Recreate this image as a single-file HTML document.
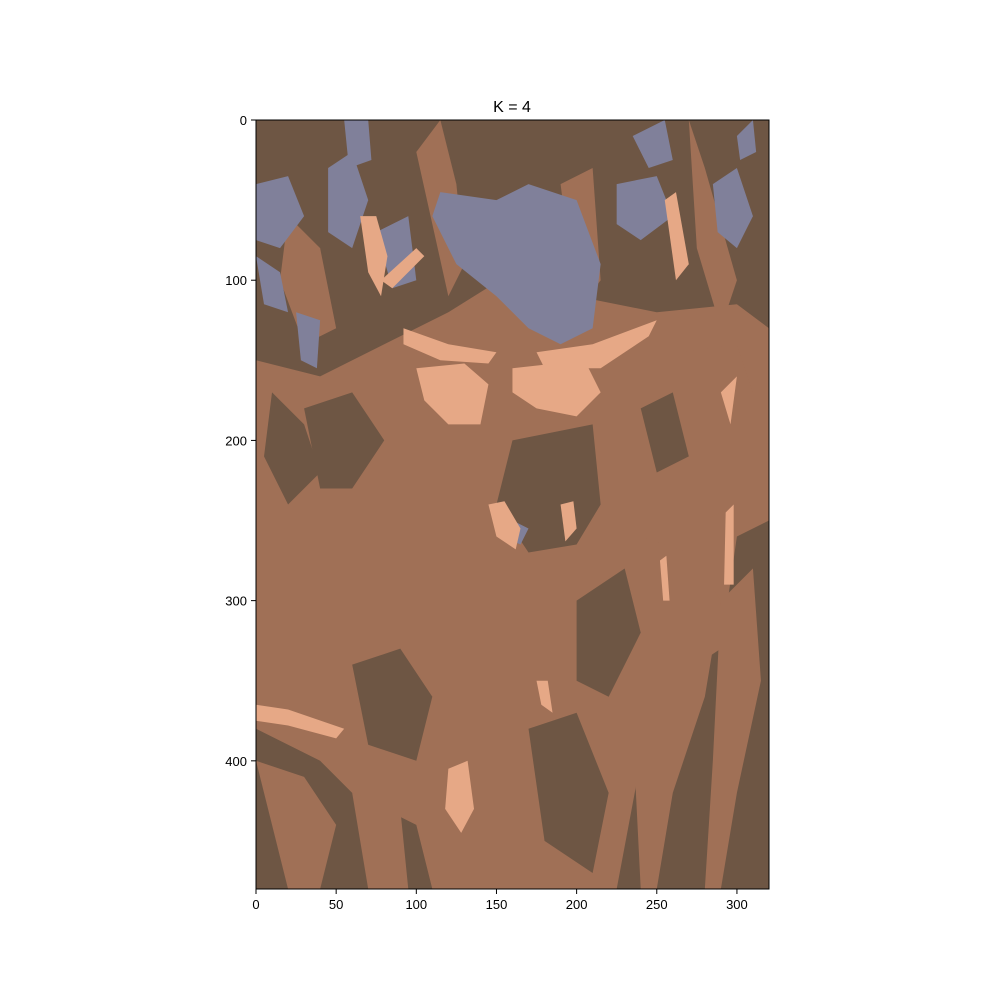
<!DOCTYPE html>
<html><head><meta charset="utf-8"><style>
html,body{margin:0;padding:0;background:#fff;}
svg{display:block;font-family:"Liberation Sans",sans-serif;}
</style></head><body>
<svg width="1000" height="1000" viewBox="0 0 1000 1000">
<rect width="1000" height="1000" fill="#fff"/>
<text x="512" y="112" text-anchor="middle" font-size="16">K = 4</text>
<g id="img" transform="translate(256,120) scale(1.603,1.602)">
<rect x="0" y="0" width="320" height="480" fill="#6e5644"/>
<g fill="#a07056">
<path d="M0,150 L40,160 L80,140 L120,120 L160,95 L200,110 L250,120 L300,115 L320,130 L320,250 L300,260 L290,330 L260,350 L240,400 L225,480 L110,480 L100,440 L60,420 L40,400 L0,380 Z"/>
<path d="M230,150 L300,140 L320,200 L300,240 L260,260 L240,230 Z"/>
<path d="M240,260 L270,270 L290,300 L280,360 L260,420 L250,480 L240,480 L235,380 Z"/>
<path d="M290,300 L310,280 L315,350 L300,420 L290,480 L280,480 L285,400 Z"/>
<path d="M0,400 L30,410 L50,440 L40,480 L20,480 L10,440 Z"/>
<path d="M60,420 L90,430 L95,480 L70,480 Z"/>
<path d="M100,20 L115,0 L125,40 L130,90 L120,110 Z"/>
<path d="M190,40 L210,30 L215,100 L200,120 Z"/>
<path d="M20,60 L40,80 L50,130 L30,140 L15,100 Z"/>
<path d="M270,0 L280,30 L300,100 L290,130 L275,80 Z"/>
</g>
<g fill="#6e5644">
<path d="M160,200 L210,190 L215,240 L200,265 L170,270 L150,240 Z"/>
<path d="M10,170 L30,190 L40,220 L20,240 L5,210 Z"/>
<path d="M200,300 L230,280 L240,320 L220,360 L200,350 Z"/>
<path d="M60,340 L90,330 L110,360 L100,400 L70,390 Z"/>
<path d="M170,380 L200,370 L220,420 L210,470 L180,450 Z"/>
<path d="M30,180 L60,170 L80,200 L60,230 L40,230 Z"/>
<path d="M240,180 L260,170 L270,210 L250,220 Z"/>
</g>
<g fill="#80809a">
<path d="M115,45 L150,50 L170,40 L200,50 L215,90 L210,130 L190,140 L170,130 L150,110 L125,90 L110,60 Z"/>
<path d="M0,40 L20,35 L30,60 L15,80 L0,75 Z"/>
<path d="M0,85 L15,95 L20,120 L5,115 Z"/>
<path d="M25,120 L40,125 L38,155 L28,150 Z"/>
<path d="M45,30 L60,20 L70,50 L60,80 L45,70 Z"/>
<path d="M55,0 L70,0 L72,25 L58,30 Z"/>
<path d="M75,70 L95,60 L100,100 L85,105 Z"/>
<path d="M225,40 L250,35 L260,60 L240,75 L225,65 Z"/>
<path d="M235,10 L255,0 L260,25 L245,30 Z"/>
<path d="M285,40 L300,30 L310,60 L300,80 L288,70 Z"/>
<path d="M300,10 L310,0 L312,20 L302,25 Z"/>
<path d="M160,250 L170,255 L165,265 L158,262 Z"/>
</g>
<g fill="#e6a886">
<path d="M65,60 L75,60 L82,85 L78,110 L70,95 Z"/>
<path d="M78,100 L100,80 L105,85 L85,105 Z"/>
<path d="M92,130 L120,140 L150,145 L145,152 L115,150 L92,140 Z"/>
<path d="M175,145 L210,140 L250,125 L245,135 L215,155 L180,155 Z"/>
<path d="M100,155 L130,152 L145,165 L140,190 L120,190 L105,175 Z"/>
<path d="M160,155 L205,150 L215,170 L200,185 L175,180 L160,170 Z"/>
<path d="M145,240 L155,238 L165,255 L162,268 L150,260 Z"/>
<path d="M190,240 L198,238 L200,255 L193,263 Z"/>
<path d="M120,405 L132,400 L136,430 L128,445 L118,430 Z"/>
<path d="M0,365 L20,368 L55,380 L50,386 L20,378 L0,375 Z"/>
<path d="M255,50 L262,45 L270,90 L262,100 Z"/>
<path d="M290,170 L300,160 L296,190 Z"/>
<path d="M293,245 L298,240 L298,290 L292,290 Z"/>
<path d="M252,275 L256,272 L258,300 L254,300 Z"/>
<path d="M175,350 L182,350 L185,370 L178,365 Z"/>
</g>
</g>
<rect x="256" y="120" width="513" height="769" fill="none" stroke="#000" stroke-width="1"/>
<g id="xt"></g>
<g id="yt"></g>
</svg>
<script>
const xTicks=[0,50,100,150,200,250,300];
const yTicks=[0,100,200,300,400];
const ns="http://www.w3.org/2000/svg";
const sx=v=>256+v*513/320, sy=v=>120+v*769/480;
const xt=document.getElementById('xt'), yt=document.getElementById('yt');
xTicks.forEach(v=>{
 const l=document.createElementNS(ns,'line');
 l.setAttribute('x1',sx(v));l.setAttribute('x2',sx(v));l.setAttribute('y1',889);l.setAttribute('y2',894);l.setAttribute('stroke','#000');
 
 
 xt.appendChild(l);
 const t=document.createElementNS(ns,'text');
 t.setAttribute('x',sx(v));t.setAttribute('y',909);t.setAttribute('text-anchor','middle');t.setAttribute('font-size','13');t.textContent=v;
 
 
 xt.appendChild(t);
});
yTicks.forEach(v=>{
 const l=document.createElementNS(ns,'line');
 l.setAttribute('x1',251);l.setAttribute('x2',256);l.setAttribute('y1',sy(v));l.setAttribute('y2',sy(v));l.setAttribute('stroke','#000');
 
 
 yt.appendChild(l);
 const t=document.createElementNS(ns,'text');
 t.setAttribute('x',247);t.setAttribute('y',sy(v)+5);t.setAttribute('text-anchor','end');t.setAttribute('font-size','13');t.textContent=v;
 
 
 yt.appendChild(t);
});
</script>
</body></html>
